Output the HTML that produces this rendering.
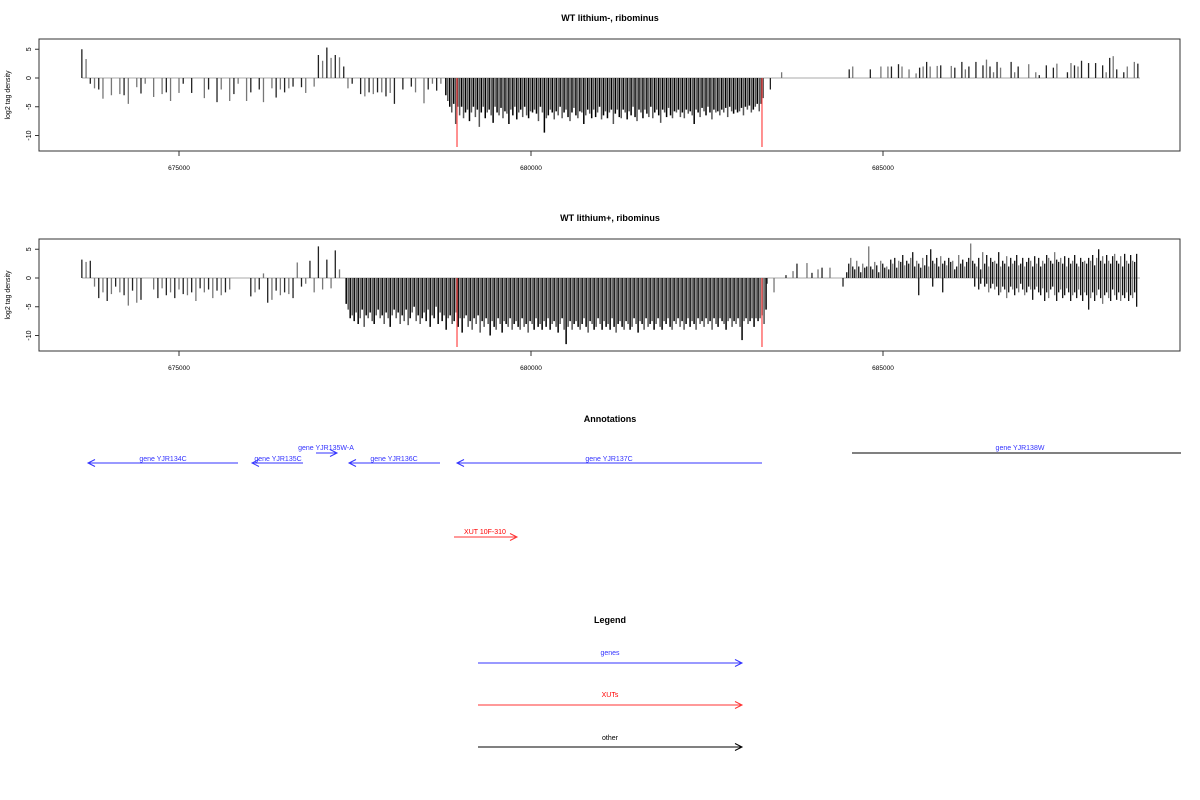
<!DOCTYPE html>
<html><head><meta charset="utf-8"><style>
body{margin:0;background:#fff;}
svg{display:block;font-family:"Liberation Sans",sans-serif;}
</style></head><body>
<svg id="c" width="1200" height="800" viewBox="0 0 1200 800"></svg>
<script>
// ---- data ----
const xTicks=[675000,680000,685000];
const yTicks=[5,0,-5,-10];
const p1LeftStart=673620, p1LeftStep=60;
const p1LeftVals=[5,3.3,-1,-1.8,-2,-3.6,0,-3,0,-2.8,-3,-4.5,0,-1.6,-2.7,-1,0,-3.3,0,-2.8,-2.5,-4,0,-2.6,-1,0,-2.6,0,0,-3.5,-2,0,-4.2,-2,0,-4,-2.8,-1,0,-4,-2.5,0,-2,-4.2,0,-1.8,-3.4,-2,-2.5,-1.8,-1.5,0,-1.6,-2.6,0,-1.5,4,3,5.3,3.5,4,3.6,2,-1.8,-1,0,-2.8,-3.2,-2.5,-2.8,-2.5,-2.5,-3.2,-2.6,-4.5,0,-2,0,-1.5,-2.5,0,-4.4,-2,-1,-2.2,-1,0];
const p1DenseStart=678790, p1DenseStep=28;
const p1DenseVals=[-3,-4,-5,-6,-4.5,-8,-5,-6.5,-5,-7,-6,-5.5,-7.5,-6,-5,-6.8,-5.5,-8.5,-6,-5,
-7,-6,-5.5,-6.5,-7.8,-5,-6,-6.5,-5.2,-7,-5.8,-6.2,-8,-5.5,-6.5,-5,-7.2,-6,-5.5,-6.8,
-5,-6.5,-7,-5.8,-6,-5.5,-6.2,-7.5,-5,-6,-9.5,-7,-6.5,-5.5,-6,-7.2,-5.8,-6.5,-5,-7,
-6,-5.5,-6.8,-7.5,-6,-5.2,-6.5,-7,-5.8,-6,-8,-6.5,-5.5,-6.2,-7,-5.5,-6.8,-6,-5,-7.2,
-6.5,-5.8,-7,-6,-5.5,-8,-6.2,-5.5,-6.8,-7,-5.5,-6,-7.2,-5.8,-6.5,-5,-6.8,-7.5,-5.5,-6,
-7,-5.5,-6.2,-6.8,-5,-7,-6,-5.5,-6.5,-7.8,-5.5,-6,-6.8,-5.2,-6.5,-7,-5.8,-6,-5.5,-6.8,
-6,-7,-5.5,-6.2,-5.8,-6.5,-8,-5.5,-6,-6.8,-5.2,-5.8,-6.5,-5,-6,-7.2,-5.5,-6,-5.8,-6.5,
-5.5,-6,-5.2,-6.8,-5,-5.8,-6.2,-5.5,-6,-5.8,-5.2,-6.5,-5,-5.5,-4.8,-6,-5.5,-5,-4.5,-5.8,
-4.5,-3.5];
const p1ExtraPos=[683400,683560];
const p1ExtraVals=[-2,1];
const p1RightStart=684520, p1RightStep=50;
const p1RightVals=[1.5,2,0,0,0,0,1.5,0,0,2,0,2,2,0,2.4,2,0,1.5,0,0.8,1.8,2,2.8,2,0,2.1,2.2,0,0,2.1,1.8,0,2.8,1.5,2,0,2.8,0,2.2,3.2,2,1,2.8,1.8,0,0,2.8,1,2,0,0,2.4,0,1,0.5,0,2.2,0,1.8,2.5,0,0,1,2.6,2.2,2,3,0,2.6,0,2.6,0,2.2,1,3.5,3.8,1.5,0,1,2,0,2.8,2.5];

const p2LeftStart=673620, p2LeftStep=60;
const p2LeftVals=[3.2,2.8,3,-1.5,-3.5,-2.5,-4,-2.8,-1.5,-2.5,-3,-4.8,-2.2,-4.3,-3.8,0,0,-2,-3.5,-1.8,-3,-2.5,-3.5,-2,-2.8,-3,-2.5,-4,-1.8,-2.5,-2,-3.5,-2.2,-3,-2.5,-2,0,0,0,0,-3.2,-2.5,-2,0.8,-4.3,-3.8,-2.2,-3,-2.5,-2.8,-3.5,2.7,-1.5,-1,3,-2.5,5.5,-2,3.2,-1.8,4.8,1.5];
const p2DenseStart=677375, p2DenseStep=28.4;
const p2DenseVals=[-4.5,-5.5,-7,-6.5,-7.5,-6,-8,-7,-5.5,-8.5,-6.5,-7,-6,-7.5,-8,-6.5,-5.5,-7,-6.5,-8,
-6,-7,-8.5,-6.5,-5.5,-7,-6,-8,-6.5,-7.5,-5.5,-8.2,-7,-6,-5,-7.5,-6.5,-8,-7,-6,
-7.5,-5.5,-8.5,-6.5,-7,-5,-8,-6,-7.5,-6.5,-9,-7,-6.5,-8,-7.5,-6,-8.5,-7,-9.5,-7,
-6.5,-8.5,-7.5,-9,-7,-8,-6.5,-9.5,-7.5,-8.5,-7,-8,-10,-7.5,-8.5,-9,-7,-8,-9.5,-7.5,
-8,-8.5,-7,-9,-8,-7.5,-8.5,-9,-7,-8.5,-8,-9.5,-7.5,-8,-9,-7,-8.5,-8,-9,-7.5,
-8.5,-7,-9,-8,-7.5,-8.5,-9.5,-8,-7,-9,-11.5,-8.5,-7.5,-9,-8,-7.5,-8.5,-9,-8,-7,
-8.5,-9.5,-7.5,-8,-9,-8.5,-7,-8,-9,-7.5,-8.5,-8,-9,-7,-8.5,-9.5,-8,-7.5,-8.5,-9,
-7.5,-8,-9,-8.5,-7,-8,-9.5,-7.5,-8,-9,-7,-8.5,-8,-7.5,-9,-8,-7,-8.5,-9,-7.5,
-8,-7,-8.5,-9,-7.5,-8,-7,-8.5,-7.5,-9,-8,-7,-8.5,-7.5,-8,-9,-7,-8,-7.5,-8.5,
-7,-8,-7.5,-9,-7,-8,-8.5,-7,-7.5,-8,-9,-7.5,-7,-8.5,-7.5,-8,-7,-8.5,-10.8,-7.5,
-7,-8,-7.5,-7,-8.5,-7,-7.5,-7,-6.5,-8,-5.5];
const p2ExtraPos=[683352,683452,683622,683722,683778,683920,683991,684077,684134,684247,684432];
const p2ExtraVals=[-1,-2.5,0.5,1.2,2.5,2.6,0.9,1.5,1.8,1.8,-1.5];
const p2RightStart=684485, p2RightStep=28.4;
const p2RightPos=[1,2.5,3.5,2,1.5,3,2,1,2.5,1.8,2,5.5,2,1.5,2.8,2.2,1,3,2.5,1.8,
2,1.5,3.2,2.5,3.5,1.8,3,2.8,4,2.2,3,2.5,3.5,4.5,2,3,2.5,1.8,3.5,2.2,
4,2,5,3,2.5,3.5,2,3.8,2.5,3,2.2,3.5,2.8,3,1.5,2,4,2.5,3.2,2,
2.8,3.5,6,3,2.5,2,3.5,1.5,4.5,2.5,4,2,3.5,2.8,3,2.5,4.5,2,3,2.5,
3.8,2,3.5,2.5,3,4,2.2,2.5,3.5,2,2.8,3.5,3,2,3.8,2.5,3.5,2,3,2.5,
4,3.5,3,2.5,4.5,3.2,2.8,3.5,2.5,3.8,2,3.5,2.5,3,4,2.5,2,3.5,2.8,3,
2.5,3.5,3,4,2.2,3.5,5,3,3.8,2.5,4,3,2.5,3.8,4.2,3,2.5,3.8,2,4.2,
3,2.5,4,3,2.8,4.2];
const p2RightNeg=[0,0,0,0,0,0,0,0,0,0,0,0,0,0,0,0,0,0,0,0,
0,0,0,0,0,0,0,0,0,0,0,0,0,0,0,0,-3,0,0,0,
0,0,0,-1.5,0,0,0,0,-2.5,0,0,0,0,0,0,0,0,0,0,0,
0,0,0,0,-1.5,0,-2,-1,0,-1.5,-1,-2.5,-1.8,-1,-2,-1.5,-3,-2.5,-1.5,-2,
-3.5,-2.5,-1.5,-2,-3,-1.8,-2.5,-1,-2,-3,-2.5,-1.5,-2,-3.8,-2,-1.5,-2.5,-3,-1.8,-4,
-2.5,-3.5,-2,-1.5,-3,-4,-2.5,-2,-3.5,-3,-1.8,-2.5,-4,-3,-2.5,-3.5,-2,-3,-4,-2.5,
-3,-5.5,-3.5,-2.5,-4,-3,-2,-3.5,-4.5,-3,-2.5,-3.5,-4,-2,-3,-3.8,-2.5,-4,-3,-3.5,
-2.5,-4,-3,-3.5,-2.5,-5];
const redMarks=[678949,683281];
const redVal=-12;

// ---- drawing ----
const svg=document.getElementById('c');
const NS='http://www.w3.org/2000/svg';
function mk(tag,attrs,parent){const e=document.createElementNS(NS,tag);for(const k in attrs)e.setAttribute(k,attrs[k]);(parent||svg).appendChild(e);return e;}
const xScale=bp=>179+(bp-675000)*0.0704;
function yScaleFor(zero){return v=>zero-v*5.75;}

function panel(top,title,name,series){
  const g=mk('g',{});
  
  
  const zero=top+39;const y=yScaleFor(zero);
  const t=mk('text',{x:610,y:top-18,'text-anchor':'middle','font-size':9,'font-weight':'bold',fill:'#000'},g);
  t.textContent=title;
  
  
  const box=mk('rect',{x:39,y:top,width:1141,height:112,fill:'none',stroke:'#333','stroke-width':1},g);
  
  
  const base=mk('line',{x1:82,x2:1140,y1:zero,y2:zero,stroke:'#aaa','stroke-width':1},g);
  
  
  const bars=mk('g',{},g);
  
  
  series.forEach(s=>{
    s.vals.forEach((v,i)=>{
      if(!v)return;
      const bp=s.pos?s.pos[i]:s.start+i*s.step;
      const x=xScale(bp);
      let col;
      if(s.dense) col=(i%2===1)?'#555':'#000';
      else if(s.mid) col=(i%3===2)?'#777':'#111';
      else col=(i%2)?'#777':'#222';
      const l=mk('line',{x1:x,x2:x,y1:zero,y2:y(v),stroke:col,'stroke-width':s.w||1.3},bars);
      
      
    });
  });
  redMarks.forEach(bp=>{
    const x=xScale(bp);
    const l=mk('line',{x1:x,x2:x,y1:zero,y2:y(redVal),stroke:'#f55','stroke-width':1.3},g);
    
    
  });
  yTicks.forEach(v=>{
    const yy=y(v);
    const tk=mk('line',{x1:35,x2:39,y1:yy,y2:yy,stroke:'#333'},g);
    
    
    const tl=mk('text',{x:0,y:0,'text-anchor':'middle','font-size':7,fill:'#000',transform:`translate(31,${yy}) rotate(-90)`},g);
    tl.textContent=v;
    
    
  });
  const yl=mk('text',{x:0,y:0,'text-anchor':'middle','font-size':7,fill:'#000',transform:`translate(10,${top+56}) rotate(-90)`},g);
  yl.textContent='log2 tag density';
  
  
  xTicks.forEach(v=>{
    const xx=xScale(v);
    const tk=mk('line',{x1:xx,x2:xx,y1:top+112,y2:top+117,stroke:'#333'},g);
    
    
    const tl=mk('text',{x:xx,y:top+131,'text-anchor':'middle','font-size':6.5,fill:'#000'},g);
    tl.textContent=v;
    
    
  });
}
panel(39,'WT lithium-, ribominus','panel-lithium-minus',[
  {start:p1LeftStart,step:p1LeftStep,vals:p1LeftVals},
  {start:p1DenseStart,step:p1DenseStep,vals:p1DenseVals,dense:true,w:1.5},
  {pos:p1ExtraPos,vals:p1ExtraVals},
  {start:p1RightStart,step:p1RightStep,vals:p1RightVals}
]);
panel(239,'WT lithium+, ribominus','panel-lithium-plus',[
  {start:p2LeftStart,step:p2LeftStep,vals:p2LeftVals},
  {start:p2DenseStart,step:p2DenseStep,vals:p2DenseVals,dense:true,w:1.5},
  {pos:p2ExtraPos,vals:p2ExtraVals},
  {start:p2RightStart,step:p2RightStep,vals:p2RightPos,mid:true,w:1.3},
  {start:p2RightStart,step:p2RightStep,vals:p2RightNeg,mid:true,w:1.3}
]);

function label(x,y,txt,col,size,name,bold){
  const t=mk('text',{x:x,y:y,'text-anchor':'middle','font-size':size||7,fill:col,'font-weight':bold?'bold':'normal'});
  t.textContent=txt;
  
  
  return t;
}
function arrow(x1,x2,y,col,name,head){
  const g=mk('g',{});
  
  
  mk('line',{x1:x1,x2:x2,y1:y,y2:y,stroke:col,'stroke-width':1},g);
  if(head!==false){
    const d=x2>x1?-7:7;
    mk('polyline',{points:`${x2+d},${y-3.5} ${x2},${y} ${x2+d},${y+3.5}`,fill:'none',stroke:col,'stroke-width':1},g);
  }
}
label(610,422,'Annotations','#000',9,'annotations-title',true);
const blue='#33f';
arrow(238,88,463,blue,'gene-YJR134C');label(163,461,'gene YJR134C',blue,7,'gene-label');
arrow(303,252,463,blue,'gene-YJR135C');label(278,461,'gene YJR135C',blue,7,'gene-label');
arrow(316,337,453,blue,'gene-YJR135W-A');label(326,450,'gene YJR135W-A',blue,7,'gene-label');
arrow(440,349,463,blue,'gene-YJR136C');label(394,461,'gene YJR136C',blue,7,'gene-label');
arrow(762,457,463,blue,'gene-YJR137C');label(609,461,'gene YJR137C',blue,7,'gene-label');
arrow(852,1181,453,'#000','gene-YJR138W',false);label(1020,450,'gene YJR138W',blue,7,'gene-label');
arrow(454,517,537,'#f33','xut-10F-310');label(485,534,'XUT 10F-310','#f00',7,'xut-label');

label(610,623,'Legend','#000',9,'legend-title',true);
arrow(478,742,663,blue,'legend-genes');label(610,655,'genes',blue,7,'legend-label');
arrow(478,742,705,'#f33','legend-xuts');label(610,697,'XUTs','#f00',7,'legend-label');
arrow(478,742,747,'#000','legend-other');label(610,740,'other','#000',7,'legend-label');
</script>
</body></html>
